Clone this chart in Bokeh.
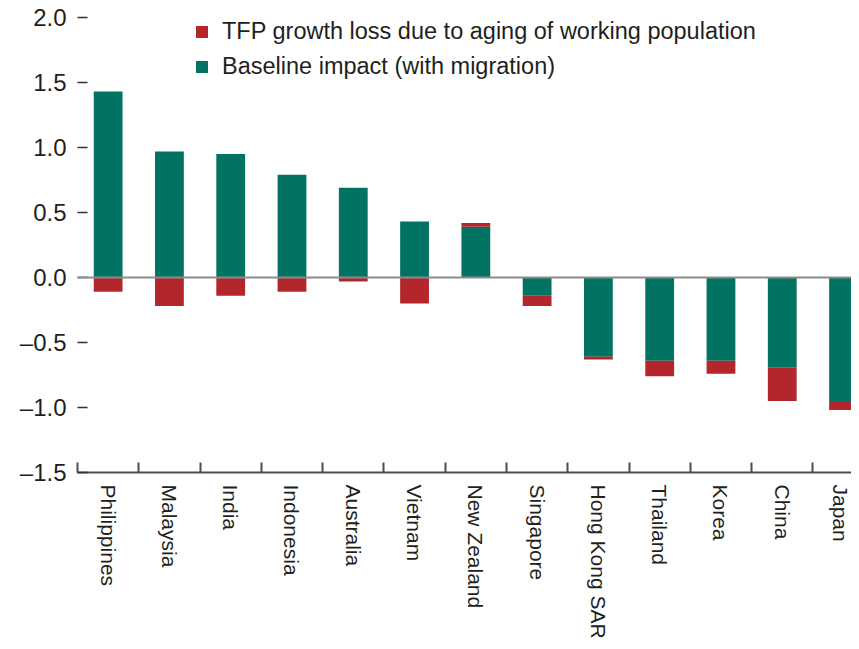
from bokeh.plotting import figure
from bokeh.models import (Range1d, FixedTicker, Span, Legend, LegendItem, ColumnDataSource, LinearAxis)
from bokeh.embed import file_html
from bokeh.resources import INLINE

categories = ["Philippines", "Malaysia", "India", "Indonesia", "Australia", "Vietnam",
              "New Zealand", "Singapore", "Hong Kong SAR", "Thailand", "Korea", "China", "Japan"]
baseline = [1.43, 0.97, 0.95, 0.79, 0.69, 0.43, 0.39, -0.14, -0.61, -0.64, -0.64, -0.69, -0.95]
tfp_loss = [-0.11, -0.22, -0.14, -0.11, -0.03, -0.20, 0.03, -0.08, -0.02, -0.12, -0.10, -0.26, -0.07]
y_ticks = [-1.5, -1.0, -0.5, 0.0, 0.5, 1.0, 1.5, 2.0]
y_tick_labels = ["–1.5", "–1.0", "–0.5", "0.0", "0.5", "1.0", "1.5", "2.0"]

FONT = "Liberation Sans"
GREEN = "#007363"
RED = "#B3262C"
TEXT = "#231F20"

n = len(categories)
xs = list(range(n))
red_bottom = [b if (b * t > 0) else 0.0 for b, t in zip(baseline, tfp_loss)]
red_top = [rb + t for rb, t in zip(red_bottom, tfp_loss)]

src_g = ColumnDataSource(dict(x=xs, bottom=[0.0] * n, top=baseline))
src_r = ColumnDataSource(dict(x=xs, bottom=red_bottom, top=red_top))

p = figure(frame_width=774, frame_height=455, output_backend="svg", toolbar_location=None,
           x_range=Range1d(-0.5, 12.13), y_range=Range1d(-1.5, 2.0),
           min_border_left=77, min_border_right=0, min_border_top=17, min_border_bottom=169,
           x_axis_type=None, y_axis_type=None)
p.outline_line_color = None
p.xgrid.visible = False
p.ygrid.visible = False

g = p.vbar(x="x", bottom="bottom", top="top", width=0.47, source=src_g,
           fill_color=GREEN, line_color=None)
r = p.vbar(x="x", bottom="bottom", top="top", width=0.47, source=src_r,
           fill_color=RED, line_color=None)

p.add_layout(Span(location=0, dimension="width", line_color="#8C8C8C", line_width=2))

# y axis
ya = LinearAxis(ticker=FixedTicker(ticks=y_ticks, minor_ticks=[]))
ya.major_label_overrides = {t: l for t, l in zip(y_ticks, y_tick_labels)}
ya.axis_line_color = None
ya.major_tick_in = 10
ya.major_tick_out = 0
ya.major_tick_line_color = "#333333"
ya.major_tick_line_width = 1.5
ya.minor_tick_line_color = None
ya.major_label_standoff = 11
ya.major_label_text_font = FONT
ya.major_label_text_font_size = "24px"
ya.major_label_text_color = TEXT
p.add_layout(ya, "left")

# x axis
xa = LinearAxis(ticker=FixedTicker(ticks=xs, minor_ticks=[i - 0.5 for i in range(n + 1)]))
xa.major_label_overrides = {i: c for i, c in zip(xs, categories)}
xa.major_label_orientation = "vertical"
xa.axis_line_color = "#4D4D4D"
xa.axis_line_width = 2
xa.major_tick_in = 0
xa.major_tick_out = 0
xa.major_tick_line_color = None
xa.minor_tick_in = 10
xa.minor_tick_out = 0
xa.minor_tick_line_color = "#4D4D4D"
xa.minor_tick_line_width = 2
xa.major_label_standoff = 12
xa.major_label_text_font = FONT
xa.major_label_text_font_size = "21px"
xa.major_label_text_color = TEXT
p.add_layout(xa, "below")

legend = Legend(items=[LegendItem(label="TFP growth loss due to aging of working population", renderers=[r]),
                       LegendItem(label="Baseline impact (with migration)", renderers=[g])],
                location=(117, 388))
legend.border_line_color = None
legend.background_fill_alpha = 0
legend.padding = 0
legend.margin = 0
legend.spacing = 0
legend.glyph_width = 15
legend.glyph_height = 15
legend.label_height = 35
legend.label_standoff = 13
legend.label_text_font = FONT
legend.label_text_font_size = "23.5px"
legend.label_text_color = TEXT
p.add_layout(legend, "center")

open("out.html", "w").write(file_html(p, INLINE))
